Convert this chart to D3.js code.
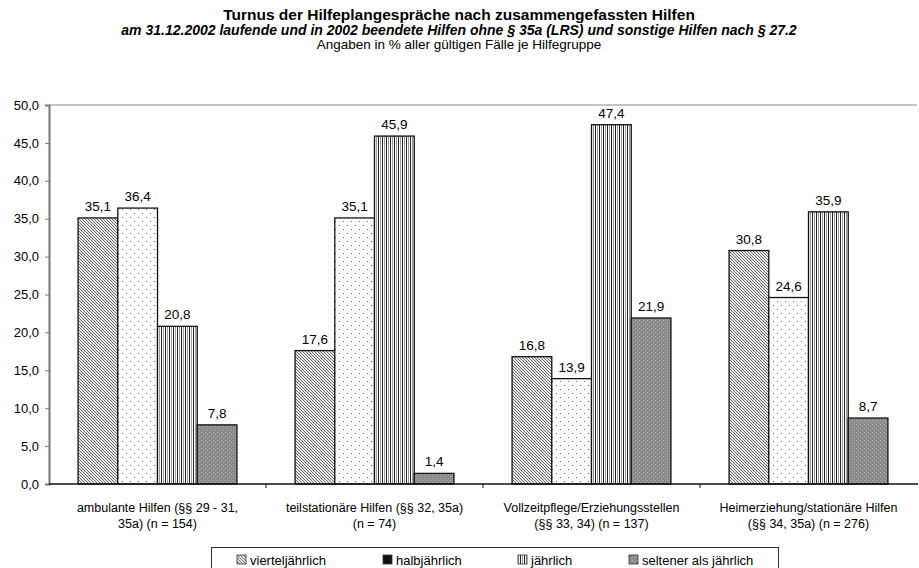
<!DOCTYPE html>
<html><head><meta charset="utf-8">
<script src="https://cdn.jsdelivr.net/npm/d3@7"></script>
<style>body{margin:0;background:#fff}svg{display:block}text{font-family:"Liberation Sans",Arial,sans-serif;fill:#000}</style>
</head><body><svg id="c" width="919" height="568"></svg>
<script>
const categories = [
  ["ambulante Hilfen (§§ 29 - 31,", "35a) (n = 154)"],
  ["teilstationäre Hilfen (§§ 32, 35a)", "(n = 74)"],
  ["Vollzeitpflege/Erziehungsstellen", "(§§ 33, 34) (n = 137)"],
  ["Heimerziehung/stationäre Hilfen", "(§§ 34, 35a) (n = 276)"]
];
const seriesNames = ["vierteljährlich", "halbjährlich", "jährlich", "seltener als jährlich"];
const vierteljaehrlich = [35.1, 17.6, 16.8, 30.8];
const halbjaehrlich = [36.4, 35.1, 13.9, 24.6];
const jaehrlich = [20.8, 45.9, 47.4, 35.9];
const seltener = [7.8, 1.4, 21.9, 8.7];
const yTicks = [0, 5, 10, 15, 20, 25, 30, 35, 40, 45, 50];
const titleLines = [
  "Turnus der Hilfeplangespräche nach zusammengefassten Hilfen",
  "am 31.12.2002 laufende und in 2002 beendete Hilfen ohne § 35a (LRS) und sonstige Hilfen nach § 27.2",
  "Angaben in % aller gültigen Fälle je Hilfegruppe"
];

const seriesValues = [vierteljaehrlich, halbjaehrlich, jaehrlich, seltener];
const svg = d3.select("#c");
const defs = svg.append("defs");

// patterns
let p = defs.append("pattern").attr("id","p0").attr("patternUnits","userSpaceOnUse").attr("width",3).attr("height",3);
p.append("rect").attr("width",3).attr("height",3).attr("fill","#e6e6e6");
p.append("path").attr("d","M-1,-1L4,4M-1,2L1,4M2,-1L4,1").attr("stroke","#666").attr("stroke-width",0.9);

p = defs.append("pattern").attr("id","p1").attr("patternUnits","userSpaceOnUse").attr("width",8).attr("height",8);
p.append("rect").attr("width",8).attr("height",8).attr("fill","#fff");
p.append("rect").attr("x",1).attr("y",1).attr("width",1).attr("height",1).attr("fill","#555");
p.append("rect").attr("x",5).attr("y",5).attr("width",1).attr("height",1).attr("fill","#777");

p = defs.append("pattern").attr("id","p2").attr("patternUnits","userSpaceOnUse").attr("width",4).attr("height",4);
p.append("rect").attr("width",4).attr("height",4).attr("fill","#fff");
p.append("rect").attr("x",0).attr("width",1).attr("height",4).attr("fill","#222");
p.append("rect").attr("x",2).attr("width",1).attr("height",4).attr("fill","#999");

p = defs.append("pattern").attr("id","p3").attr("patternUnits","userSpaceOnUse").attr("width",4).attr("height",4);
p.append("rect").attr("width",4).attr("height",4).attr("fill","#8a8a8a");
p.append("rect").attr("x",0).attr("y",0).attr("width",1).attr("height",1).attr("fill","#b8b8b8");
p.append("rect").attr("x",2).attr("y",2).attr("width",1).attr("height",1).attr("fill","#b8b8b8");

// titles
svg.append("text").attr("x",459).attr("y",19.5).attr("text-anchor","middle").attr("font-size",15.5).attr("font-weight","bold").text(titleLines[0]);
svg.append("text").attr("x",459).attr("y",34.5).attr("text-anchor","middle").attr("font-size",14).attr("font-weight","bold").attr("font-style","italic").text(titleLines[1]);
svg.append("text").attr("x",459).attr("y",49).attr("text-anchor","middle").attr("font-size",13.5).text(titleLines[2]);

const L = 49, R = 917, T = 105, B = 484;
const y = d3.scaleLinear().domain([0,50]).range([B,T]);
const x0 = d3.scaleBand().domain(d3.range(categories.length)).range([L,R]).padding(0);
const bw = x0.bandwidth();
const x1 = d3.scaleBand().domain(d3.range(seriesNames.length)).range([bw*0.134, bw*0.866]).padding(0);

// top gridline
svg.append("line").attr("x1",L).attr("x2",R).attr("y1",y(50)).attr("y2",y(50)).attr("stroke","#888").attr("stroke-width",1);

// y axis
const yAxis = svg.append("g").attr("transform",`translate(${L},0)`)
  .call(d3.axisLeft(y).tickValues(yTicks).tickSize(4).tickFormat(d => d3.format(".1f")(d).replace(".",",")));
yAxis.select(".domain").attr("stroke","#777").attr("stroke-width",2);
yAxis.selectAll(".tick line").attr("stroke","#777");
yAxis.selectAll("text").attr("font-size",13).attr("fill","#000").attr("x",-10).style("font-family","Liberation Sans, Arial, sans-serif");

// bars
const groups = svg.append("g").selectAll("g").data(categories).join("g")
  .attr("transform",(d,i)=>`translate(${x0(i)},0)`);
groups.each(function(c,ci){
  const g = d3.select(this);
  seriesValues.forEach((vals,si)=>{
    const v = vals[ci];
    g.append("rect").attr("x",x1(si)).attr("y",y(v)).attr("width",x1.bandwidth()).attr("height",B-y(v))
      .attr("fill",`url(#p${si})`).attr("stroke","#111").attr("stroke-width",1.3);
    g.append("text").attr("x",x1(si)+x1.bandwidth()/2).attr("y",y(v)-7).attr("text-anchor","middle")
      .attr("font-size",13.5).text(d3.format(".1f")(v).replace(".",","));
  });
});

// x axis
svg.append("line").attr("x1",L).attr("x2",R+1).attr("y1",B).attr("y2",B).attr("stroke","#111").attr("stroke-width",1.5);
d3.range(1,categories.length).forEach(i=>{
  svg.append("line").attr("x1",x0(i)).attr("x2",x0(i)).attr("y1",B).attr("y2",B+4).attr("stroke","#111");
});
categories.forEach((c,i)=>{
  const t = svg.append("text").attr("text-anchor","middle").attr("font-size",12.5);
  c.forEach((line,li)=>{
    t.append("tspan").attr("x",x0(i)+bw/2).attr("y",512+li*16).text(line);
  });
});

// legend
svg.append("rect").attr("x",211.5).attr("y",547.5).attr("width",567).attr("height",40).attr("fill","#fff").attr("stroke","#333").attr("stroke-width",1);
const legX = [237, 383, 518, 629];
const legFill = ["url(#p0)", "#111", "url(#p2)", "url(#p3)"];
seriesNames.forEach((n,i)=>{
  svg.append("rect").attr("x",legX[i]).attr("y",555).attr("width",9).attr("height",9)
    .attr("fill",legFill[i]).attr("stroke","#333").attr("stroke-width",0.8);
  svg.append("text").attr("x",legX[i]+13).attr("y",565).attr("font-size",13).text(n);
});
</script></body></html>
